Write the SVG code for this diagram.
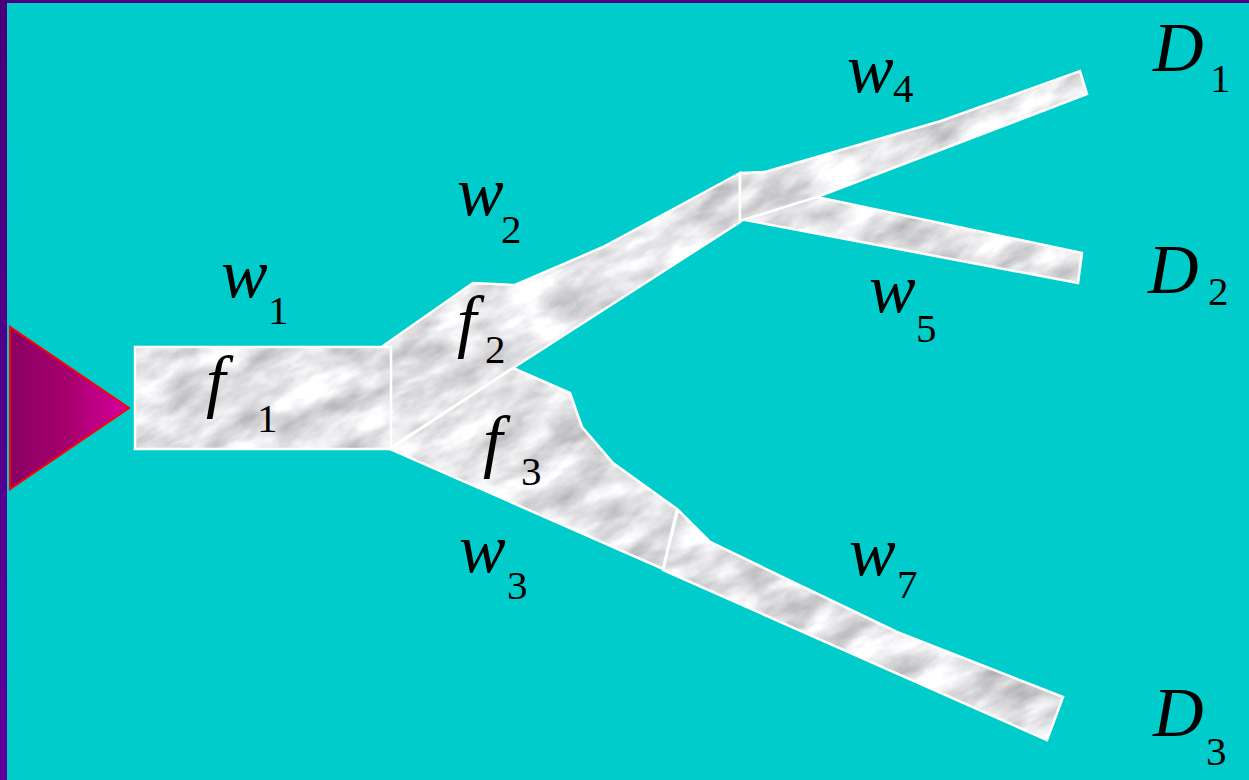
<svg xmlns="http://www.w3.org/2000/svg" width="1249" height="780" viewBox="0 0 1249 780">
  <defs>
    <linearGradient id="leftBar" x1="0" y1="0" x2="0" y2="1">
      <stop offset="0" stop-color="#470078"/>
      <stop offset="1" stop-color="#5C009C"/>
    </linearGradient>
    <linearGradient id="triGrad" x1="0" y1="0" x2="1" y2="0">
      <stop offset="0" stop-color="#8A0062"/>
      <stop offset="0.5" stop-color="#A8006E"/>
      <stop offset="1" stop-color="#D8009E"/>
    </linearGradient>
    <filter id="marbleF" filterUnits="userSpaceOnUse" x="0" y="0" width="2000" height="2000" color-interpolation-filters="sRGB">
      <feTurbulence type="fractalNoise" baseFrequency="0.018 0.04" numOctaves="5" seed="11" result="noise"/>
      <feColorMatrix in="noise" type="matrix" values="0.5 0 0 0 0.64  0.5 0 0 0 0.64  0.5 0 0 0 0.65  0 0 0 0 1"/>
    </filter>
    <pattern id="marble" patternUnits="userSpaceOnUse" x="-400" y="-600" width="2000" height="2000" patternTransform="rotate(-25 620 400)">
      <rect x="0" y="0" width="2000" height="2000" fill="#e6e6e6" filter="url(#marbleF)"/>
    </pattern>
    <style>
      .pipe { fill: url(#marble); stroke: #ffffff; stroke-width: 2.5; stroke-linejoin: miter; }
      .lbl { font-family: "Liberation Serif", "Times New Roman", serif; font-style: italic; font-size: 70px; fill: #000000; }
      .sub { font-style: normal; font-size: 41px; }
    </style>
  </defs>

  <rect x="0" y="0" width="1249" height="780" fill="#00CCCC"/>
  <rect x="0" y="0" width="1249" height="3" fill="#4B0082"/>
  <rect x="0" y="0" width="7" height="780" fill="url(#leftBar)"/>

  <g id="source">
    <polygon points="10,327 10,489 129,408" fill="url(#triGrad)" stroke="#FF0000" stroke-width="2"/>
  </g>

  <g id="connectors">
    <g id="f2">
      <polygon class="pipe" points="383,346 473,283 515,285 603,247 740,173 740,222 513,368 390,448"/>
    </g>
    <g id="f3">
      <polygon class="pipe" points="390,449 513,368 570,393 582,427 613,463 677,509 663,569"/>
    </g>
    <g id="w5">
      <polygon class="pipe" points="745,206 817,197 1082,253 1078,283 745,220"/>
    </g>
    <g id="w4">
      <polygon class="pipe" points="740,173 765,172 941,121 1080,71 1087,94 817,197 740,221"/>
    </g>
    <g id="w7">
      <polygon class="pipe" points="678,510 710,542 897,632 1063,697 1047,740 663,570"/>
    </g>
  </g>

  <g id="f1">
    <rect class="pipe" x="135" y="347" width="256" height="102"/>
  </g>

  <g id="labels">
    <text class="lbl" x="221" y="297">w<tspan class="sub" x="268" y="324">1</tspan></text>
    <text class="lbl" x="206" y="404">f<tspan class="sub" x="257" y="432">1</tspan></text>
    <text class="lbl" x="457" y="215">w<tspan class="sub" x="501" y="243">2</tspan></text>
    <text class="lbl" x="457" y="344">f<tspan class="sub" x="485" y="363">2</tspan></text>
    <text class="lbl" x="483" y="464">f<tspan class="sub" x="521" y="485">3</tspan></text>
    <text class="lbl" x="459" y="572">w<tspan class="sub" x="507" y="599">3</tspan></text>
    <text class="lbl" x="847" y="92">w<tspan class="sub" x="893" y="102">4</tspan></text>
    <text class="lbl" x="869" y="312">w<tspan class="sub" x="916" y="342">5</tspan></text>
    <text class="lbl" x="849" y="575">w<tspan class="sub" x="897" y="598">7</tspan></text>
    <text class="lbl" x="1153" y="71">D<tspan class="sub" x="1210" y="92">1</tspan></text>
    <text class="lbl" x="1148" y="293">D<tspan class="sub" x="1208" y="305">2</tspan></text>
    <text class="lbl" x="1153" y="736">D<tspan class="sub" x="1206" y="765">3</tspan></text>
  </g>
</svg>
